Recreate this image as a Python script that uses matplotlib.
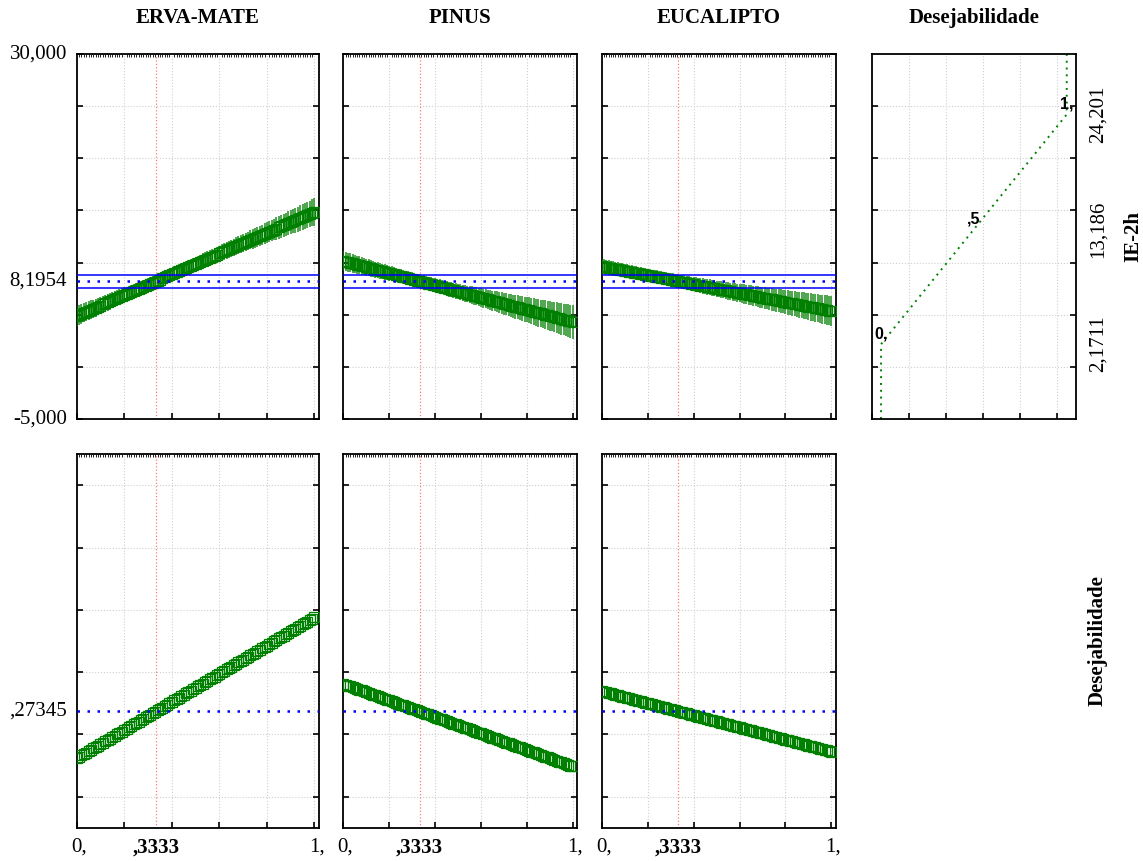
import numpy as np
import matplotlib.pyplot as plt

plt.rcParams['font.family'] = 'Liberation Serif'

# fatores da mistura
componentes = ['ERVA-MATE', 'PINUS', 'EUCALIPTO']
ie_em_0 = [4.88, 10.15, 9.64]      # IE-2h previsto com o componente em 0
ie_em_1 = [14.86, 4.30, 5.35]      # IE-2h previsto com o componente em 1
ic_em_0 = [0.96, 0.96, 0.72]       # meia largura do IC em 0
ic_em_1 = [1.31, 1.60, 1.44]       # meia largura do IC em 1
ic_atual = 0.655                   # meia largura do IC no nivel atual

nivel_atual = 0.3333
ie_atual = 8.1954
desej_atual = 0.27345

# funcao de desejabilidade do IE-2h
desej_ie = [2.1711, 13.186, 24.201]
desej_val = [0.0, 0.5, 1.0]
desej_rot = ['0,', ',5', '1,']

ylim_ie = (-5, 30)
ylim_d = (-0.1, 1.1)
n_pts = 101

VERDE = '#008000'
AZUL = '#0000ff'
VERMELHO = '#ff7a7a'
GRADE = '#cfcfcf'
FS = 15

fig = plt.figure(figsize=(11.43, 8.61), dpi=100)

lefts = [0.0671, 0.3004, 0.5264]
widths = [0.2122, 0.2047, 0.2050]
top_row = (0.5134, 0.4239)
bot_row = (0.0387, 0.4337)


def estilo(ax):
    for sp in ax.spines.values():
        sp.set_linewidth(1.3)
    ax.tick_params(which='major', direction='in', length=4, width=1.2,
                   left=True, right=True, top=False, bottom=True,
                   labelleft=False, labelbottom=False)
    ax.grid(True, color=GRADE, ls=':', lw=0.8)
    ax.set_axisbelow(True)


def rotulo_y(ax, val, txt):
    ax.annotate(txt, xy=(0, val), xycoords=('axes fraction', 'data'),
                xytext=(-7, 0), textcoords='offset points', ha='right',
                va='center', fontsize=FS)


x = np.linspace(0, 1, n_pts)

for i, nome in enumerate(componentes):
    pred = ie_em_0[i] + (ie_em_1[i] - ie_em_0[i]) * x
    # IC de um modelo linear: quadrado da meia largura e quadratico em x
    c = np.polyfit([0, nivel_atual, 1],
                   [ic_em_0[i] ** 2, ic_atual ** 2, ic_em_1[i] ** 2], 2)
    ic = np.sqrt(np.polyval(c, x))
    desej = np.interp(pred, desej_ie, desej_val)

    ax = fig.add_axes([lefts[i], top_row[0], widths[i], top_row[1]])
    ax.errorbar(x, pred, yerr=ic, fmt='s', ms=6.5, mfc='none', mec=VERDE,
                mew=0.9, ecolor=(0.0, 0.5, 0.0, 0.85), elinewidth=1.15,
                capsize=0, zorder=3)
    ax.axhline(ie_atual, color=AZUL, ls=(0, (1, 3)), lw=1.8, zorder=4)
    ax.axhline(ie_atual + ic_atual, color=AZUL, lw=1.1, zorder=4)
    ax.axhline(ie_atual - ic_atual, color=AZUL, lw=1.1, zorder=4)
    ax.axvline(nivel_atual, color=VERMELHO, ls=':', lw=0.9, zorder=2)
    ax.set_xlim(0, 1.02)
    ax.set_ylim(*ylim_ie)
    ax.set_xticks(np.arange(0, 1.01, 0.2))
    ax.set_yticks(np.arange(-5, 31, 5))
    ax.set_xticks(x, minor=True)
    estilo(ax)
    ax.tick_params(which='minor', top=True, bottom=False, direction='in',
                   length=2.5, width=0.6)
    if i == 0:
        rotulo_y(ax, 30, '30,000')
        rotulo_y(ax, ie_atual, '8,1954')
        rotulo_y(ax, -5, '-5,000')
    fig.text(lefts[i] + widths[i] / 2, 0.979, nome, ha='center',
             va='center', fontsize=FS, fontweight='bold')

    axb = fig.add_axes([lefts[i], bot_row[0], widths[i], bot_row[1]])
    axb.plot(x, desej, 's', ms=6.5, mfc='none', mec=VERDE, mew=0.9,
             zorder=3)
    axb.axhline(desej_atual, color=AZUL, ls=(0, (1, 3)), lw=1.8, zorder=4)
    axb.axvline(nivel_atual, color=VERMELHO, ls=':', lw=0.9, zorder=2)
    axb.set_xlim(0, 1.02)
    axb.set_ylim(*ylim_d)
    axb.set_xticks(np.arange(0, 1.01, 0.2))
    axb.set_yticks(np.arange(0, 1.01, 0.2))
    axb.set_xticks(x, minor=True)
    estilo(axb)
    axb.tick_params(which='minor', top=True, bottom=False, direction='in',
                    length=2.5, width=0.6)
    if i == 0:
        rotulo_y(axb, desej_atual, ',27345')
    for v, t, b in [(0, '0,', False), (nivel_atual, ',3333', True),
                    (1, '1,', False)]:
        axb.annotate(t, xy=(v, 0), xycoords=('data', 'axes fraction'),
                     xytext=(1.5 if t != ',3333' else 0, -7),
                     textcoords='offset points', ha='center', va='top',
                     fontsize=FS, fontweight='bold' if b else 'normal')

# perfil da funcao de desejabilidade
axd = fig.add_axes([0.7627, top_row[0], 0.1787, top_row[1]])
dx = [desej_val[0]] + desej_val + [desej_val[-1]]
dy = [ylim_ie[0]] + desej_ie + [ylim_ie[1]]
axd.plot(dx, dy, color=VERDE, ls=(0, (1, 2.5)), lw=1.4)
for dv, iv, t in zip(desej_val, desej_ie, desej_rot):
    axd.annotate(t, xy=(dv, iv), xytext=(0, 2), textcoords='offset points',
                 ha='center', va='bottom', fontsize=11.5, fontweight='bold',
                 family='Liberation Sans')
    axd.annotate(f'{iv:.5g}'.replace('.', ','), xy=(1, iv),
                 xycoords=('axes fraction', 'data'), xytext=(9, 0),
                 textcoords='offset points', ha='left', va='center',
                 rotation=90, fontsize=FS)
axd.set_xlim(-0.05, 1.05)
axd.set_ylim(*ylim_ie)
axd.set_xticks(np.arange(-0.05, 1.0, 0.2))
axd.set_yticks(np.arange(0, 26, 5))
estilo(axd)
fig.text(0.7627 + 0.1787 / 2, 0.979, 'Desejabilidade', ha='center',
         va='center', fontsize=FS, fontweight='bold')

fig.text(1133 / 1143, 1 - 236 / 861, 'IE-2h', rotation=90, ha='center',
         va='center', fontsize=FS, fontweight='bold')
fig.text(1098 / 1143, 1 - 641 / 861, 'Desejabilidade', rotation=90,
         ha='center', va='center', fontsize=FS, fontweight='bold')

fig.savefig('out.png', dpi=100)
